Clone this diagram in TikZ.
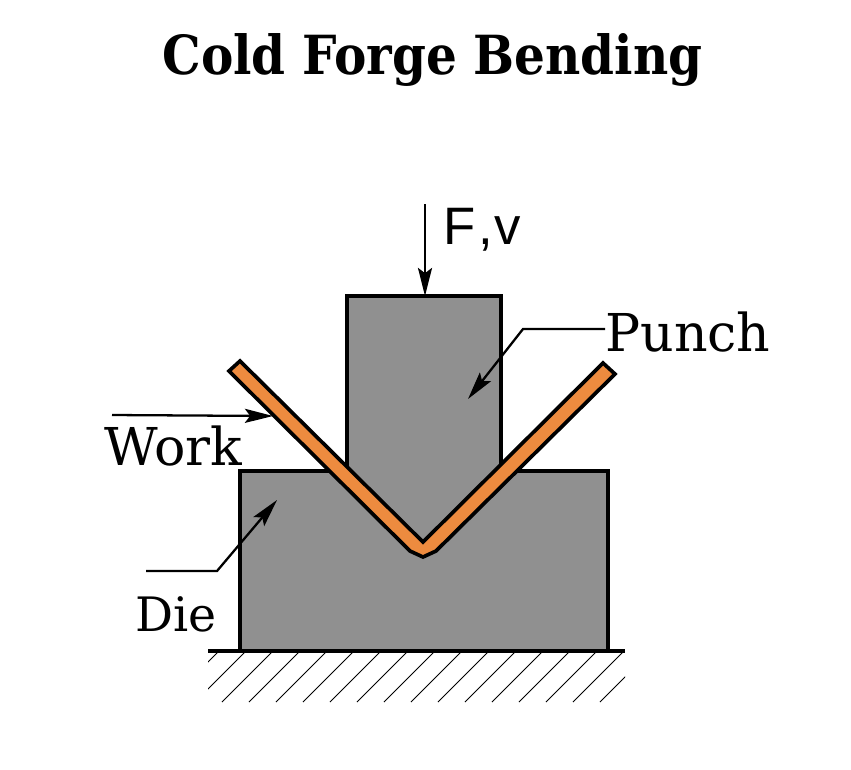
\documentclass[tikz,border=0pt]{standalone}
\usepackage{fontspec}
\setmainfont{DejaVu Serif}
\newfontfamily\titlefont{DejaVu Serif Condensed}
\newfontfamily\labelfont{Liberation Sans}
\usetikzlibrary{arrows.meta}
\definecolor{bodygray}{RGB}{144,144,144}
\definecolor{workorange}{RGB}{237,139,63}
\tikzset{
  outline/.style={line width=2.1pt,line join=miter},
  leader/.style={line width=1.3pt,-{Stealth[length=16pt,width=8pt,inset=3pt]}},
  tag/.style={inner sep=0pt,anchor=base west,font=\fontsize{29.7}{30}\selectfont}
}

\begin{document}
\begin{tikzpicture}[x=0.02cm,y=-0.02cm]
\useasboundingbox (0,0) rectangle (851,769);
% die and punch
\fill[white] (0,0) rectangle (851,769);
\fill[bodygray] (240,471) rectangle (608,651);
\fill[bodygray] (347,296) rectangle (501,480);
\draw[outline] (347,480) -- (347,296) -- (501,296) -- (501,480);
\draw[outline] (340,471) -- (240,471) -- (240,651) -- (608,651) -- (608,471) -- (510,471);
% work
\filldraw[outline,fill=workorange] (229,371) -- (240,361) -- (423,542) -- (603,363) -- (615,374) -- (436,551) -- (423,557) -- (410,551) -- cycle;
% ground
\draw[line width=2.1pt] (208,651) -- (625,651);
\begin{scope}
\clip (208,652) rectangle (625,702);
\foreach \hx in {168,195,...,600}
  \draw[line width=0.55pt] (\hx,702) -- ++(50,-50);
\end{scope}
% labels
\node[inner sep=0pt,anchor=base] (title) at (432.5,74) {\fontsize{30.7}{31}\selectfont\titlefont\bfseries Cold Forge Bending};
\node[tag,font=\fontsize{30}{30}\selectfont\labelfont] (force) at (443,244) {F\kern1.5pt,\kern1pt v};
\node[tag] (punch) at (605,351) {Punch};
\node[tag] (work) at (104,465) {Work};
\node[tag,font=\fontsize{27}{27}\selectfont] (die) at (135,631) {Die};
% leaders
\coordinate (forcestart) at (425,204);
\coordinate (forcetip) at (425,296);
\coordinate (punchbend) at (523,329);
\coordinate (punchtip) at (468,399);
\coordinate (workstart) at (112,415);
\coordinate (worktip) at (273,416);
\coordinate (diestart) at (146,571);
\coordinate (diebend) at (217,571);
\coordinate (dietip) at (277,500);
\draw[leader] (forcestart) -- (forcetip);
\draw[leader] (punch.west |- punchbend) -- (punchbend) -- (punchtip);
\draw[leader] (workstart) -- (worktip);
\draw[leader] (diestart) -- (diebend) -- (dietip);
\end{tikzpicture}
\end{document}
